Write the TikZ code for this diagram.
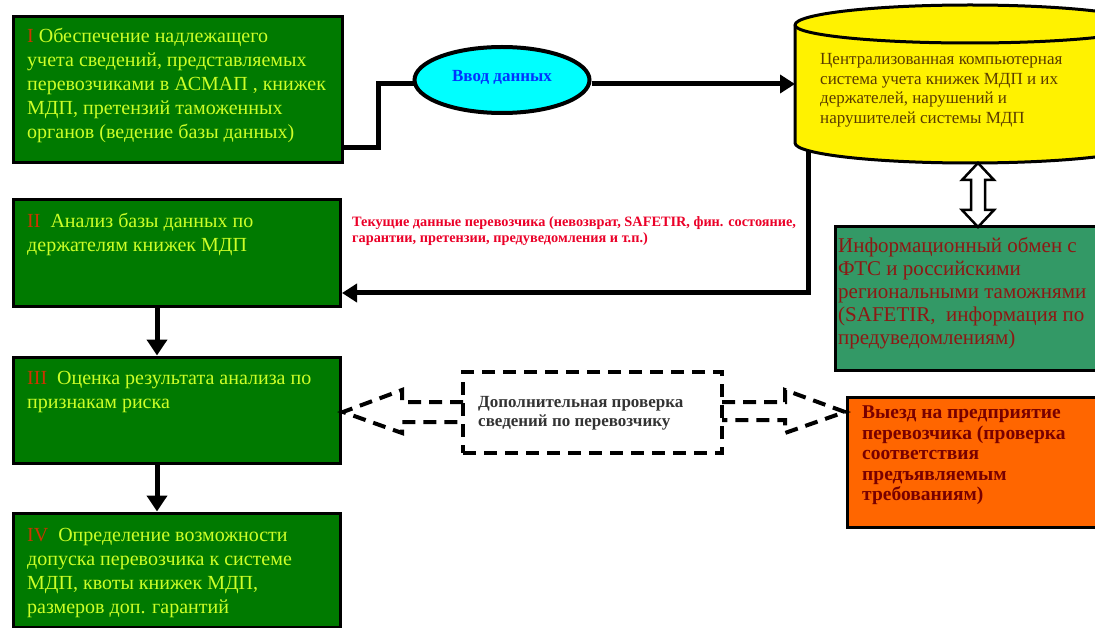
\documentclass[tikz,border=0pt]{standalone}
\usepackage{fontspec}
\setmainfont{Liberation Serif}
\usetikzlibrary{shapes.geometric,arrows.meta,calc}
\definecolor{boxgreen}{RGB}{0,122,0}
\definecolor{boxtext}{RGB}{204,255,40}
\definecolor{romanred}{RGB}{204,51,0}
\definecolor{infogreen}{RGB}{51,153,102}
\definecolor{infotext}{RGB}{140,25,20}
\definecolor{orangefill}{RGB}{255,102,0}
\definecolor{orangetext}{RGB}{120,0,0}
\definecolor{cyltext}{RGB}{90,60,0}
\definecolor{labelred}{RGB}{235,0,40}
\definecolor{ellblue}{RGB}{0,51,255}
\definecolor{ellfill}{RGB}{0,255,255}
\definecolor{dashtext}{RGB}{51,51,51}
\begin{document}
\begin{tikzpicture}[x=1pt,y=-1pt,
  gbox/.style={draw=black,line width=3pt,fill=boxgreen,inner sep=0pt},
  gtext/.style={anchor=north west,inner sep=0pt,align=left,text=boxtext,font=\fontsize{20}{24}\selectfont},
  conn/.style={line width=5pt,-{Triangle[width=20pt,length=16pt]}},
  conn2/.style={line width=5pt},
  dasharrow/.style={line width=4pt,dash pattern=on 13pt off 8pt},
]
\useasboundingbox (0,0) rectangle (1095,628);
\fill[white] (0,0) rectangle (1095,628);
\begin{scope}
\clip (0,0) rectangle (1095,628);

% left boxes
\node[gbox,minimum width=329,minimum height=146] (b1) at (177.5,90) {};
\node[gbox,minimum width=327,minimum height=107] (b2) at (176.5,253.5) {};
\node[gbox,minimum width=327,minimum height=106] (b3) at (176.5,410) {};
\node[gbox,minimum width=327,minimum height=114] (b4) at (176.5,570) {};

\node[gtext] (t1) at (27,28) {\textcolor{romanred}{I} Обеспечение надлежащего\\учета сведений, представляемых\\перевозчиками в АСМАП , книжек\\МДП, претензий таможенных\\органов (ведение базы данных)};
\node[gtext] (t2) at (27,213) {\textcolor{romanred}{II}\ \ Анализ базы данных по\\держателям книжек МДП};
\node[gtext] (t3) at (27,371) {\textcolor{romanred}{III}\ \ Оценка результата анализа по\\признакам риска};
\node[gtext] (t4) at (27,528) {\textcolor{romanred}{IV}\ \ Определение возможности\\допуска перевозчика к системе\\МДП, квоты книжек МДП,\\размеров доп. гарантий};

% cylinder
\path[fill=yellow,draw=black,line width=3pt]
  (795,25) -- (795,143) arc[start angle=180,end angle=360,x radius=175pt,y radius=20pt]
  -- (1145,25) arc[start angle=0,end angle=180,x radius=175pt,y radius=20pt] -- cycle;
\draw[line width=3pt] (795,25) arc[start angle=180,end angle=360,x radius=175pt,y radius=18pt];
\node[anchor=north west,inner sep=0pt,align=left,text=cyltext,font=\fontsize{17}{19.7}\selectfont] (cyl) at (820,53) {Централизованная компьютерная\\система учета книжек МДП и их\\держателей, нарушений и\\нарушителей системы МДП};
\coordinate (cylbot) at (808,150);
\coordinate (cylb2) at (978,163);

% info box
\node[draw=black,line width=3pt,fill=infogreen,minimum width=265,minimum height=143,inner sep=0pt] (info) at (967.5,298.5) {};
\node[anchor=north west,inner sep=0pt,align=left,text=infotext,font=\fontsize{21}{23}\selectfont] (infot) at (838,237) {Информационный обмен с\\ФТС и российскими\\региональными таможнями\\(SAFETIR,\ \ информация по\\предуведомлениям)};

% orange box
\node[draw=black,line width=3pt,fill=orangefill,minimum width=253,minimum height=130,inner sep=0pt] (orng) at (973.5,462) {};
\node[anchor=north west,inner sep=0pt,align=left,text=orangetext,font=\bfseries\fontsize{19.5}{20.5}\selectfont] (orngt) at (862,406) {Выезд на предприятие\\перевозчика (проверка\\соответствия\\предъявляемым\\требованиям)};

% dashed box
\node[draw=black,dasharrow,minimum width=259,minimum height=81,inner sep=0pt] (dbox) at (592.5,412.5) {};
\node[anchor=north west,inner sep=0pt,align=left,text=dashtext,font=\bfseries\fontsize{17}{19}\selectfont] (dboxt) at (478,396) {Дополнительная проверка\\сведений по перевозчику};

% connectors box I -> ellipse -> cylinder
\coordinate (b1out) at (342,148);
\coordinate (cylin) at (795,84);
\draw[conn2] (b1out) -- (378,148) -- (378,84) -- (415,84);
\node[ellipse,draw=black,line width=4pt,fill=ellfill,minimum width=175,minimum height=66,inner sep=0pt,text=ellblue,font=\bfseries\fontsize{17}{18}\selectfont] (ell) at (502,80) {Ввод данных\rule[-8pt]{0pt}{0pt}};
\draw[line width=5pt,-{Triangle[width=18pt,length=15pt]}] (ell.east |- cylin) -- (cylin);

% feedback arrow
\coordinate (b2in) at (342,293);
\draw[line width=5pt,-{Triangle[width=18pt,length=15pt]}] (cylbot) -- (808,293) -- (b2in);
\node[anchor=north west,inner sep=0pt,align=left,text=labelred,font=\bfseries\fontsize{14.3}{16}\selectfont] (lbl) at (352,216) {Текущие данные перевозчика (невозврат, SAFETIR, фин. состояние,\\гарантии, претензии, предуведомления и т.п.)};

% vertical arrows
\draw[conn] (b2.south -| 157,0) -- (b3.north -| 157,0);
\draw[conn] (b3.south -| 157,0) -- (b4.north -| 157,0);

% hollow double arrow
\draw[line width=2.5pt,fill=white,line join=miter]
  (cylb2) -- (994,180) -- (985,180) -- (985,210) -- (994,210) -- (978,227)
  -- (962,210) -- (971,210) -- (971,180) -- (962,180) -- cycle;

% dashed hollow arrows
\coordinate (ltip) at (343,412);
\coordinate (rtip) at (845,412);
\draw[dasharrow] (463,402) -- (402,402) -- (402,390) -- (ltip) -- (402,433) -- (402,422) -- (463,422);
\draw[dasharrow] (722,402) -- (785,402) -- (785,390) -- (rtip) -- (785,433) -- (785,420) -- (722,420);

\end{scope}
\end{tikzpicture}
\end{document}
